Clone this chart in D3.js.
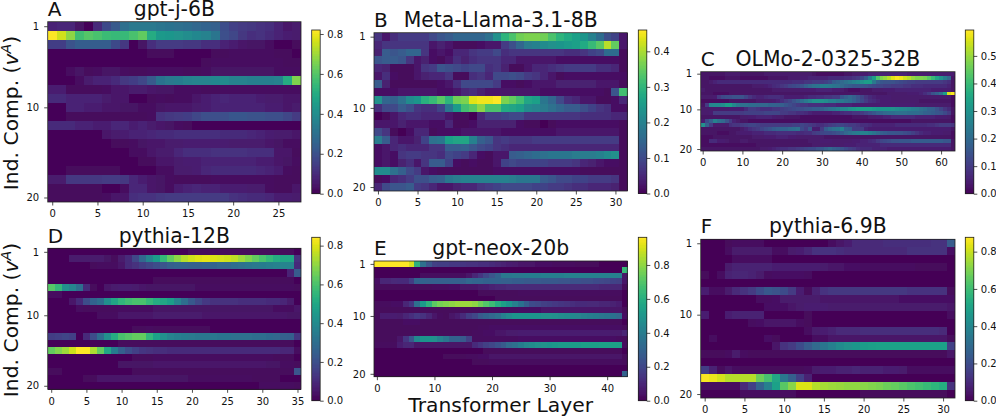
<!DOCTYPE html>
<html><head><meta charset="utf-8">
<script src="https://cdn.jsdelivr.net/npm/d3@7/dist/d3.min.js"></script>
<style>
html,body{margin:0;padding:0;background:#fff}
svg{display:block}
text{font-family:"DejaVu Sans",sans-serif;fill:#111}
</style></head><body><svg id="c" width="996" height="417"></svg>
<script>
// cell values, in hundredths, one row per independent component
const valuesA = [
[8,9,9,4,1,10,18,23,30,33,33,33,32,31,30,29,27,26,25,19,16,14,13,12,11,8,5,6],
[82,76,68,57,60,58,56,55,55,58,62,50,44,43,42,40,38,36,32,20,17,13,11,12,10,8,7,6],
[15,15,21,24,24,24,24,18,13,1,4,11,14,14,14,13,13,11,11,8,7,5,4,4,3,1,1,2],
[1,1,1,1,1,1,1,1,1,1,1,2,2,2,1,1,1,1,2,2,3,3,3,3,3,2,2,1],
[1,1,1,1,1,1,1,1,1,1,1,1,1,1,1,1,1,2,3,3,3,3,3,3,3,3,2,2],
[1,1,3,4,2,3,4,4,3,2,2,3,3,3,3,2,2,3,4,4,4,4,4,4,4,3,3,3],
[1,1,1,3,6,8,8,10,13,15,17,23,31,33,34,36,37,37,38,39,36,36,35,35,35,36,50,66],
[7,7,2,2,2,2,3,5,5,6,6,5,4,4,3,3,3,2,2,3,3,3,3,3,3,3,3,3],
[10,10,8,8,8,8,6,5,5,1,1,2,3,2,3,3,5,7,8,9,8,8,8,7,6,6,5,5],
[1,1,8,8,7,7,5,5,4,4,3,3,4,5,5,5,6,7,8,8,8,8,8,8,7,7,5,6],
[1,1,2,2,2,2,2,2,2,2,2,3,12,13,14,15,17,20,20,20,22,22,21,21,20,20,17,14],
[10,10,10,8,8,7,7,9,9,7,8,6,5,4,3,2,1,1,1,1,1,1,1,1,1,1,1,1],
[1,1,1,1,1,1,5,6,7,8,8,9,10,10,11,11,11,11,11,10,10,10,9,8,7,6,6,5],
[1,1,1,1,1,1,1,2,2,3,4,5,5,6,6,7,7,7,7,7,6,6,6,6,5,4,3,3],
[1,1,1,1,1,1,1,1,1,3,3,5,6,6,9,11,11,11,12,12,12,12,11,11,11,5,5,2],
[1,1,1,1,1,1,1,1,1,1,2,2,5,5,6,7,7,8,8,8,8,8,8,7,7,5,4,3],
[1,1,2,2,2,2,2,2,1,1,1,1,3,3,6,6,7,9,10,10,10,10,10,9,8,7,3,2],
[6,6,13,13,13,13,14,14,13,9,7,5,4,3,2,2,2,2,3,3,3,3,3,3,3,2,2,2],
[2,2,2,2,2,2,1,1,3,9,9,5,4,3,7,8,9,8,8,7,7,7,6,6,3,2,2,5],
[2,2,2,2,2,2,3,5,5,11,12,12,13,14,14,14,14,14,14,14,12,11,10,10,9,7,7,6]];
const valuesB = [
[7,3,6,8,8,8,8,10,12,13,15,15,15,15,17,23,30,33,36,37,37,36,33,30,28,26,24,20,16,11,9,3],
[5,7,7,7,7,7,7,3,4,3,1,1,1,2,3,3,8,11,15,19,20,22,23,24,25,26,28,31,34,41,35,3],
[4,13,12,13,15,15,7,2,3,2,5,5,7,8,8,10,6,7,7,7,7,7,7,7,6,6,7,9,10,16,16,1],
[12,13,13,12,7,3,4,2,1,3,6,4,6,7,7,7,5,5,3,3,3,3,3,2,2,2,2,2,2,2,2,1],
[5,4,1,1,1,3,7,8,12,11,10,9,10,10,6,7,4,1,1,3,5,5,6,7,8,8,8,8,6,6,5,1],
[3,6,2,1,1,3,4,5,5,7,1,1,6,7,5,10,10,11,10,8,7,5,3,1,2,2,2,2,2,2,2,2],
[13,4,1,1,1,1,1,1,2,3,6,10,10,10,10,8,2,2,1,2,3,3,3,4,4,4,4,4,3,3,3,1],
[2,2,2,3,3,3,3,3,2,2,3,5,6,4,3,3,3,3,3,3,3,2,2,2,2,2,2,2,2,1,12,32],
[23,15,14,17,22,24,29,31,34,30,36,37,44,45,45,46,37,35,32,27,26,18,15,10,6,5,3,3,1,1,2,5],
[6,10,10,13,11,7,6,6,9,18,25,32,34,38,33,33,28,27,26,22,21,19,17,15,13,13,11,9,7,6,2,2],
[0,1,3,5,6,6,5,5,5,3,1,1,0,5,8,8,9,10,10,7,7,7,7,7,7,7,6,6,6,6,5,5],
[3,3,3,4,3,3,3,2,2,5,1,1,2,4,4,4,4,4,2,1,1,0,1,2,2,2,2,2,2,2,2,1],
[10,7,1,0,2,5,5,1,2,2,2,3,3,3,3,3,2,2,2,2,2,2,2,3,3,3,3,3,3,3,3,1],
[19,13,5,3,3,4,9,17,18,26,27,27,20,14,12,7,8,7,7,7,8,8,8,8,8,8,8,8,8,8,8,1],
[2,3,5,6,5,5,5,7,7,13,13,14,12,10,9,7,6,5,5,5,5,5,5,5,5,5,5,5,5,5,5,1],
[2,3,2,7,8,8,7,7,6,10,9,8,5,2,1,3,3,13,14,15,16,17,18,18,18,19,19,19,20,22,23,1],
[2,3,2,4,6,3,7,13,13,9,2,1,2,1,1,3,9,10,9,9,9,9,8,8,8,7,5,4,3,2,2,1],
[22,22,17,14,10,8,3,2,1,1,1,1,1,1,1,2,2,2,2,2,2,2,2,2,2,2,1,1,1,1,1,1],
[1,2,5,6,8,11,11,13,14,18,19,20,20,20,20,20,20,19,18,18,18,13,12,10,10,9,9,8,8,8,7,1],
[5,10,12,12,13,8,7,5,3,3,4,5,5,7,8,9,10,10,10,10,9,9,8,8,7,6,6,5,5,5,4,1]];
const valuesC = [
[3,3,3,3,3,3,4,4,4,4,3,3,3,3,3,3,4,4,4,4,4,4,4,4,4,4,4,4,3,2,2,2,2,2,2,2,3,3,4,4,5,5,6,6,6,6,6,6,6,6,6,6,5,5,5,5,5,5,5,5,5,5,5,5],
[3,3,2,2,2,2,3,3,3,3,2,2,2,2,2,2,2,3,3,3,3,3,4,4,4,5,5,6,6,6,6,6,7,7,7,7,8,8,9,10,13,17,25,33,43,48,50,53,57,59,58,55,53,50,48,48,47,44,40,35,30,25,20,3],
[3,3,4,6,7,7,7,7,7,7,7,7,7,7,7,7,7,7,7,7,7,7,7,8,8,8,9,9,10,10,10,11,13,17,19,20,22,24,26,28,30,33,33,24,18,16,15,15,15,14,13,12,11,11,10,10,10,10,10,10,10,9,8,3],
[3,3,3,3,3,3,3,3,3,3,3,3,3,4,4,4,5,6,7,8,9,10,12,13,14,15,18,20,22,23,25,25,24,23,22,20,18,17,16,16,16,15,14,13,12,12,11,11,10,10,10,9,9,8,8,8,7,7,7,7,7,7,6,3],
[4,3,3,3,3,3,3,3,3,3,3,3,3,3,3,3,3,3,4,4,4,4,4,4,4,5,5,5,5,6,6,6,6,5,5,4,3,2,2,2,3,3,3,4,4,4,5,5,5,6,6,6,6,6,6,6,6,6,5,5,5,5,5,3],
[3,3,3,2,2,2,2,3,3,3,3,3,3,3,3,3,3,3,3,3,3,3,3,3,3,3,3,3,3,3,3,3,3,3,3,3,3,3,3,3,3,3,3,3,3,3,3,4,4,4,4,4,5,5,5,6,8,10,15,18,22,33,56,59],
[4,4,4,5,10,13,14,14,15,15,15,12,9,7,6,6,7,8,8,8,7,5,5,5,5,5,6,7,7,8,8,9,9,10,10,16,18,20,18,15,12,9,7,6,5,5,5,5,4,4,4,4,4,4,4,4,4,4,4,4,4,4,4,2],
[2,2,2,2,2,2,2,3,3,3,3,3,3,3,4,4,4,4,5,6,8,10,12,15,18,21,24,27,30,30,30,29,26,26,24,24,22,21,19,16,13,10,8,7,6,5,5,5,4,4,4,4,4,4,4,3,3,3,3,3,3,3,3,2],
[3,10,27,28,28,29,33,33,28,24,22,22,21,21,20,20,20,19,19,18,18,16,14,12,10,9,9,8,8,8,8,7,7,7,6,6,6,6,5,5,5,5,5,5,5,5,5,5,5,5,5,5,5,5,4,4,4,4,4,4,4,4,4,2],
[4,4,4,4,4,4,4,5,5,5,5,7,10,10,9,8,8,8,9,9,10,11,12,13,14,14,15,16,17,17,18,20,22,23,25,27,28,30,32,33,33,33,33,32,31,31,31,31,30,29,28,27,26,25,24,22,21,19,18,15,12,9,7,3],
[4,4,5,10,10,10,10,10,10,10,10,11,11,11,11,11,12,12,12,12,10,10,9,9,8,8,7,6,5,5,5,5,5,6,6,7,8,8,9,9,10,12,14,16,18,19,20,21,21,22,22,22,21,21,21,20,19,18,17,16,15,13,10,3],
[3,3,3,3,3,3,3,3,3,3,4,4,5,5,6,6,6,6,5,4,4,3,3,3,3,2,2,2,2,2,2,2,2,2,2,2,2,2,3,3,3,3,4,4,5,5,6,6,7,7,7,7,7,7,6,6,6,6,6,5,5,5,4,2],
[5,13,18,26,22,20,15,10,6,4,3,3,2,2,2,2,2,2,2,2,2,2,2,2,2,2,2,2,2,2,2,2,2,2,2,2,2,2,2,2,2,2,2,2,2,2,2,2,2,2,2,2,2,3,3,3,3,3,3,3,3,3,3,2],
[30,18,10,4,4,4,4,8,9,9,10,11,12,12,11,10,10,10,10,10,10,10,10,11,11,12,11,10,9,8,8,9,10,11,12,12,11,10,10,9,8,8,7,6,6,6,6,6,6,7,7,7,7,7,7,7,7,8,8,9,10,10,10,9],
[3,3,3,3,3,3,3,3,3,3,4,6,8,9,10,12,14,15,17,18,19,19,20,21,22,13,10,16,5,5,10,17,20,22,23,26,18,17,10,10,10,6,5,5,5,5,5,5,5,5,5,5,5,5,5,5,5,5,5,5,5,5,5,3],
[3,3,3,3,2,2,2,3,3,4,5,5,5,6,6,6,7,7,7,8,8,8,8,8,7,7,8,8,10,11,12,13,13,14,15,17,20,22,24,25,26,26,25,23,20,18,17,16,16,15,15,14,13,11,9,7,6,6,5,5,5,4,4,2],
[2,2,2,3,3,3,3,3,3,3,3,3,3,4,4,4,5,5,5,6,6,6,5,5,4,4,4,4,4,4,4,3,3,3,3,3,3,3,3,3,3,3,3,3,3,3,3,3,3,3,3,3,3,3,3,3,3,3,3,3,3,3,3,2],
[2,2,7,7,5,5,4,3,3,3,4,4,3,3,3,3,3,3,3,3,3,3,3,3,3,3,3,4,4,4,5,5,5,4,4,4,4,4,5,5,6,6,7,8,10,12,13,14,15,15,16,16,16,17,17,17,17,17,17,17,17,16,16,3],
[2,2,2,2,2,2,2,2,2,2,2,2,2,2,3,3,3,3,3,3,3,3,3,3,3,3,3,3,4,4,4,4,4,4,4,4,5,5,5,6,6,6,6,6,6,7,7,7,7,7,7,7,7,7,7,7,7,7,7,7,7,7,7,3],
[3,3,3,3,3,3,3,3,3,3,3,3,3,3,3,4,4,5,6,7,8,8,9,9,10,11,12,13,13,15,16,18,20,18,17,15,13,11,10,8,7,7,7,6,6,6,6,5,5,5,5,5,5,5,5,5,5,5,5,5,5,5,5,3]];
const valuesD = [
[1,1,1,1,1,1,1,1,1,1,1,1,1,1,1,1,1,1,1,1,2,2,2,2,2,2,2,2,2,2,2,2,2,2,2,1],
[1,1,1,6,6,6,6,6,4,2,6,10,18,28,38,46,56,64,70,75,78,80,81,80,79,78,76,72,68,64,60,56,52,50,50,12],
[1,1,1,1,1,1,2,3,3,3,5,10,12,15,17,20,22,25,27,27,26,26,27,27,28,28,30,31,33,34,35,36,37,38,38,10],
[1,1,1,1,1,1,1,1,1,1,1,1,1,1,1,1,1,1,1,1,1,1,1,1,1,1,1,1,1,1,1,1,1,1,8,24],
[1,1,1,1,1,1,1,1,1,1,1,1,1,1,1,2,2,2,2,2,2,2,2,2,2,2,2,2,2,2,2,2,2,2,2,1],
[62,56,42,38,30,10,2,1,5,6,7,7,6,5,4,4,4,4,4,4,4,3,3,3,3,3,3,3,3,3,3,3,3,3,3,2],
[3,3,1,1,1,1,1,1,1,1,1,1,1,1,1,1,1,1,1,1,1,1,1,1,1,1,1,1,1,1,1,1,1,1,1,1],
[1,1,1,5,10,20,27,30,42,50,55,58,60,60,56,52,50,47,38,30,23,18,14,12,12,12,12,11,11,11,11,10,10,9,6,1],
[1,1,1,1,3,2,2,2,2,2,3,3,3,3,3,4,4,4,4,4,4,4,4,4,4,4,4,4,4,4,4,4,3,3,3,5],
[1,1,1,1,1,1,1,3,3,3,5,5,5,5,5,6,6,6,6,6,6,6,5,5,5,5,5,5,5,5,5,5,5,5,4,4],
[1,1,1,1,1,1,1,1,1,1,1,1,1,1,1,1,1,1,1,1,1,1,1,1,1,1,1,1,1,1,1,1,1,1,1,1],
[1,1,1,1,1,1,1,1,1,1,1,1,2,2,3,2,2,2,2,2,2,2,2,1,1,1,1,1,1,1,1,1,1,1,1,1],
[15,16,17,16,1,10,20,30,42,52,60,62,64,64,55,48,42,38,36,35,34,33,33,33,32,32,31,31,31,30,30,29,28,26,25,13],
[1,1,1,1,1,1,1,1,1,1,2,2,2,2,2,2,2,2,2,2,2,2,2,2,2,2,2,2,2,2,2,2,2,2,2,1],
[64,68,72,78,84,84,74,64,50,35,25,20,16,13,12,11,11,10,10,10,10,10,10,10,10,10,10,10,10,10,10,10,10,9,9,3],
[1,1,1,1,1,1,1,1,1,1,1,1,2,2,2,3,3,3,3,3,3,3,3,3,3,3,3,3,3,3,3,3,2,2,2,1],
[1,1,1,1,1,1,1,1,1,1,4,4,4,4,4,5,5,5,5,5,5,5,5,5,5,5,5,5,5,5,5,4,4,3,3,2],
[2,2,1,1,1,1,1,1,1,1,1,1,2,2,2,2,2,2,2,2,2,2,2,2,2,2,2,2,2,2,2,2,2,2,2,22],
[1,1,1,1,1,2,2,5,5,5,5,5,5,5,5,5,4,4,4,4,3,3,3,3,3,3,3,3,3,2,2,2,2,1,1,1],
[1,1,1,1,1,1,1,1,1,1,1,1,1,1,1,1,1,1,1,1,1,1,1,1,1,1,1,1,1,1,3,3,3,3,3,2]];
const valuesE = [
[96,96,96,96,96,96,90,62,35,25,18,17,17,16,16,15,14,14,13,13,12,10,9,8,7,6,5,5,4,4,4,3,3,3,3,2,2,2,2,1,1,1,1,1],
[1,1,1,1,1,1,1,1,1,1,1,1,1,1,1,1,1,1,1,1,1,1,1,1,1,1,1,1,1,1,1,1,1,1,1,1,1,1,1,1,1,1,1,65],
[1,1,1,1,1,1,1,1,3,3,3,3,3,3,3,3,5,10,15,20,25,30,38,38,39,39,40,40,40,41,41,41,41,42,42,42,42,42,42,42,42,42,42,5],
[4,10,10,11,12,12,17,30,30,29,29,29,29,29,29,29,32,31,31,30,30,30,29,29,28,28,27,27,27,26,26,26,25,25,24,24,23,23,22,21,20,19,18,6],
[2,2,2,2,2,2,2,2,2,2,3,3,3,4,4,5,5,6,7,8,9,10,10,11,11,11,11,11,11,11,11,11,11,11,11,11,11,11,11,10,10,10,10,2],
[1,1,1,1,1,1,1,1,1,1,1,1,1,1,1,1,1,1,2,2,2,2,2,2,2,3,3,3,3,3,3,3,3,3,3,3,3,3,3,3,3,3,3,1],
[1,1,1,1,1,1,1,1,1,1,1,1,1,1,1,1,1,1,1,1,1,2,2,2,2,2,2,2,2,2,2,2,2,2,2,2,2,2,2,2,2,2,2,1],
[2,3,3,4,4,10,15,35,52,62,72,76,78,80,82,82,82,80,75,70,66,60,55,50,42,36,28,22,20,18,17,16,15,14,13,12,12,11,11,10,10,9,8,1],
[2,2,2,2,2,2,2,2,2,2,2,2,2,2,2,2,2,2,2,2,3,3,3,3,3,4,4,4,4,5,5,5,5,6,6,6,6,6,6,6,5,5,5,2],
[2,8,8,8,7,10,13,16,14,10,6,3,2,5,8,12,17,20,27,30,32,35,42,46,50,50,50,50,50,49,49,48,47,46,45,44,42,41,40,38,37,36,33,4],
[2,2,2,2,2,4,4,4,2,2,2,2,2,2,2,2,2,2,2,2,2,2,2,2,2,2,2,2,2,2,2,2,2,2,2,2,2,2,2,2,2,2,2,1],
[2,2,2,2,2,2,2,2,2,2,2,2,2,2,2,2,2,2,3,3,4,4,4,4,4,4,4,4,4,4,4,4,4,4,4,4,4,4,4,4,4,4,4,2],
[2,2,2,2,2,2,2,2,2,2,2,2,2,2,2,2,2,3,3,4,4,5,6,7,7,8,8,8,8,8,8,8,8,8,8,8,8,8,8,8,8,7,7,10],
[2,2,2,2,6,15,25,45,50,50,48,42,37,30,30,27,18,3,3,3,3,3,3,3,3,4,4,4,4,4,4,4,4,4,4,4,4,4,4,4,4,4,3,2],
[3,3,3,3,8,10,10,5,5,5,5,5,5,5,5,5,5,12,15,18,20,24,27,33,35,40,44,46,48,49,50,51,52,52,53,53,54,54,54,55,55,55,55,3],
[1,1,1,1,1,1,1,1,1,1,1,1,1,1,1,1,1,1,1,2,2,2,2,2,2,2,2,2,2,2,2,2,2,2,2,2,2,2,2,2,2,2,2,1],
[1,1,1,1,1,1,1,1,1,1,1,1,2,2,2,2,3,3,4,4,5,5,5,5,5,5,5,5,5,5,5,5,5,5,5,5,5,5,5,5,5,5,5,2],
[1,1,1,1,1,1,1,1,1,1,1,1,1,1,1,1,1,2,2,2,3,3,3,3,3,3,3,3,3,3,3,3,3,3,3,3,3,3,3,3,3,3,3,2],
[1,1,1,1,1,1,1,1,1,1,1,1,1,1,1,1,1,1,1,1,1,1,1,1,1,1,1,1,1,1,1,1,1,1,1,1,1,1,1,1,1,1,1,1],
[1,1,1,1,1,1,1,1,1,1,1,1,1,1,1,1,1,1,1,1,1,1,1,1,1,1,1,1,1,1,1,1,1,1,1,1,1,1,1,1,1,1,1,30]];
const valuesF = [
[1,1,1,2,3,3,3,3,1,1,1,1,1,1,1,1,3,5,7,10,10,10,10,11,11,11,11,11,11,12,12,25],
[1,1,1,3,6,6,6,6,6,3,3,6,7,9,13,13,13,11,10,10,10,10,10,10,10,10,12,12,12,12,12,4],
[1,1,1,1,3,3,3,3,3,1,1,1,1,1,1,1,1,1,1,1,1,1,1,1,1,1,1,1,1,1,1,1],
[1,1,1,6,8,8,8,8,8,7,7,7,7,7,7,6,5,5,4,4,3,3,3,3,3,3,3,2,2,2,2,1],
[2,1,3,8,9,9,8,6,3,4,4,4,4,3,1,1,1,1,1,1,1,1,1,1,1,1,1,1,1,1,1,1],
[1,1,1,1,1,1,1,1,1,1,1,1,1,1,1,1,1,1,1,1,1,1,1,1,1,1,1,1,1,1,1,1],
[7,3,3,6,10,12,15,20,24,22,20,15,7,2,8,13,14,14,14,14,14,14,14,14,14,14,13,13,13,13,12,2],
[1,1,1,1,1,1,1,3,3,4,6,6,6,6,6,5,5,5,5,5,5,5,5,5,5,4,4,4,4,4,4,4],
[1,1,1,1,1,1,1,1,4,4,4,5,6,7,7,7,6,6,6,6,6,6,6,6,6,6,6,6,6,6,6,5],
[7,1,1,7,8,8,8,8,1,1,1,1,1,2,1,1,1,1,1,1,1,1,1,1,1,1,1,1,1,1,1,3],
[1,1,1,1,1,1,3,4,5,5,5,5,3,2,1,1,1,1,1,1,1,1,1,1,1,1,1,1,1,1,1,1],
[1,1,1,1,1,1,1,1,1,1,1,1,1,3,6,7,8,10,10,10,11,11,11,11,11,11,11,11,11,11,10,1],
[1,3,1,1,1,1,1,1,4,2,1,1,1,1,3,3,5,5,5,5,5,5,5,5,5,5,5,5,5,5,5,2],
[1,1,1,1,1,1,1,1,1,5,13,15,20,25,30,34,38,42,44,46,48,49,50,50,50,50,50,50,50,50,50,17],
[2,2,2,3,6,3,2,2,2,2,2,2,2,2,2,2,2,2,2,2,2,2,2,2,2,2,2,2,2,2,2,5],
[1,1,1,1,1,1,1,1,1,1,1,1,1,1,1,1,1,1,1,1,1,1,1,1,1,1,1,1,1,1,1,1],
[16,8,2,5,3,2,2,2,2,2,2,2,2,3,6,7,7,8,8,9,8,8,8,7,7,6,3,3,3,3,3,3],
[87,85,82,78,78,78,78,68,62,52,35,27,17,8,1,1,1,1,1,1,1,1,1,1,1,1,1,1,1,1,1,1],
[3,3,3,3,3,10,17,28,38,50,65,72,83,83,78,76,75,74,73,73,72,71,70,68,67,65,63,61,59,57,55,12],
[1,1,1,1,1,3,3,3,3,3,3,3,1,1,1,1,1,1,1,1,2,2,2,2,2,2,2,2,2,2,2,1]];

const colourMaxes = [0.82, 0.46, 0.594, 0.843, 0.963, 0.877];
const titles = ["gpt-j-6B", "Meta-Llama-3.1-8B", "OLMo-2-0325-32B", "pythia-12B", "gpt-neox-20b", "pythia-6.9B"];
const letters = ["A", "B", "C", "D", "E", "F"];
const xTicks = [[0,5,10,15,20,25],[0,5,10,15,20,25,30],[0,10,20,30,40,50,60],[0,5,10,15,20,25,30,35],[0,10,20,30,40],[0,5,10,15,20,25,30]];
const yTicks = [1, 10, 20];
const barTicks = [[0,.2,.4,.6,.8],[0,.1,.2,.3,.4],[0,.1,.2,.3,.4,.5],[0,.2,.4,.6,.8],[0,.2,.4,.6,.8],[0,.2,.4,.6,.8]];
const xLabel = "Transformer Layer";
const allValues = [valuesA, valuesB, valuesC, valuesD, valuesE, valuesF];

// layout
const frames = [
 {x0:47.7,x1:301,  y0:21.7, y1:202,  bx:311.7,by0:30,   by1:193.7, tb:15.5,lb:15.5},
 {x0:374, x1:627.3,y0:32.7, y1:191,  bx:638.3,by0:30,   by1:193.5, tb:26.7,lb:26.7},
 {x0:700.7,x1:955, y0:71.7, y1:151,  bx:965.3,by0:30,   by1:193.7, tb:66,  lb:66},
 {x0:47.7,x1:301,  y0:248.3,y1:389.3,bx:311.7,by0:237.3,by1:400.7, tb:242.7,lb:242.7},
 {x0:374, x1:627.3,y0:261,  y1:376.7,bx:638.3,by0:237.3,by1:400.7, tb:255, lb:255},
 {x0:700.7,x1:955, y0:239.3,y1:398,  bx:965.3,by0:237.3,by1:400.7, tb:233, lb:233}];
const barW = 8.5, titleSize = 20.4, letterSize = 20, tickSize = 10, labelSize = 20.3;
const ink = "#222";

const svg = d3.select("#c");
const defs = svg.append("defs");
defs.append("filter").attr("id", "soft").attr("x", "-2%").attr("y", "-2%").attr("width", "104%").attr("height", "104%")
  .append("feGaussianBlur").attr("stdDeviation", 0.45);

frames.forEach((f, p) => {
  const data = allValues[p], nCols = data[0].length, cmax = colourMaxes[p];
  const x = d3.scaleLinear().domain([-0.5, nCols - 0.5]).range([f.x0, f.x1]);
  const y = d3.scaleLinear().domain([0.5, 20.5]).range([f.y0, f.y1]);
  const col = d3.scaleSequential(d3.interpolateViridis).domain([0, cmax]);
  const g = svg.append("g");
  const cells = data.flatMap((row, r) => row.map((v, c) => ({r, c, v: v / 100})));
  g.append("g").attr("filter", "url(#soft)").attr("shape-rendering", "crispEdges").selectAll("rect").data(cells).join("rect")
    .attr("x", d => x(d.c - 0.5)).attr("y", d => y(d.r + 0.5))
    .attr("width", d => x(d.c + 0.5) - x(d.c - 0.5) + 0.4)
    .attr("height", d => y(d.r + 1.5) - y(d.r + 0.5) + 0.4)
    .attr("fill", d => col(d.v));
  g.append("rect").attr("x", f.x0).attr("y", f.y0).attr("width", f.x1 - f.x0).attr("height", f.y1 - f.y0)
    .attr("fill", "none").attr("stroke", ink).attr("stroke-width", 0.8);

  const ax = g.append("g").attr("transform", `translate(0,${f.y1})`)
    .call(d3.axisBottom(x).tickValues(xTicks[p]).tickFormat(d3.format("d")).tickSize(3.5).tickPadding(4.8));
  const ay = g.append("g").attr("transform", `translate(${f.x0},0)`)
    .call(d3.axisLeft(y).tickValues(yTicks).tickFormat(d3.format("d")).tickSize(3.5).tickPadding(5));

  // colour bar
  const by = d3.scaleLinear().domain([0, cmax]).range([f.by1, f.by0]);
  const steps = d3.range(0, 128);
  g.append("g").attr("shape-rendering", "crispEdges").selectAll("rect").data(steps).join("rect")
    .attr("x", f.bx).attr("width", barW)
    .attr("y", i => by((i + 1) / 128 * cmax))
    .attr("height", i => by(i / 128 * cmax) - by((i + 1) / 128 * cmax) + 0.5)
    .attr("fill", i => col((i + 0.5) / 128 * cmax));
  g.append("rect").attr("x", f.bx).attr("y", f.by0).attr("width", barW).attr("height", f.by1 - f.by0)
    .attr("fill", "none").attr("stroke", ink).attr("stroke-width", 0.8);
  const ab = g.append("g").attr("transform", `translate(${f.bx + barW},0)`)
    .call(d3.axisRight(by).tickValues(barTicks[p]).tickFormat(d3.format(".1f")).tickSize(3.5).tickPadding(3.5));

  [ax, ay, ab].forEach(a => {
    a.select(".domain").remove();
    a.selectAll("line").attr("stroke", ink).attr("stroke-width", 0.8);
    a.selectAll("text").style("font-family", '"DejaVu Sans",sans-serif').attr("font-size", tickSize).attr("fill", "#111");
  });

  g.append("text").attr("x", (f.x0 + f.x1) / 2).attr("y", f.tb).attr("text-anchor", "middle")
    .attr("font-size", titleSize).text(titles[p]);
  g.append("text").attr("x", f.x0).attr("y", f.lb).attr("font-size", letterSize).text(letters[p]);
});

// shared labels
[[18, 113], [18, 320]].forEach(([tx, ty]) => {
  const t = svg.append("text").attr("transform", `translate(${tx},${ty}) rotate(-90)`)
    .attr("text-anchor", "middle").attr("font-size", labelSize);
  t.append("tspan").text("Ind. Comp. (");
  t.append("tspan").attr("font-style", "italic").text("v");
  t.append("tspan").attr("font-style", "italic").attr("font-size", labelSize * 0.7).attr("dy", -7).text("A");
  t.append("tspan").attr("dy", 7).text(")");
});
svg.append("text").attr("x", (frames[4].x0 + frames[4].x1) / 2).attr("y", 411.7)
  .attr("text-anchor", "middle").attr("font-size", labelSize).text(xLabel);
</script></body></html>
